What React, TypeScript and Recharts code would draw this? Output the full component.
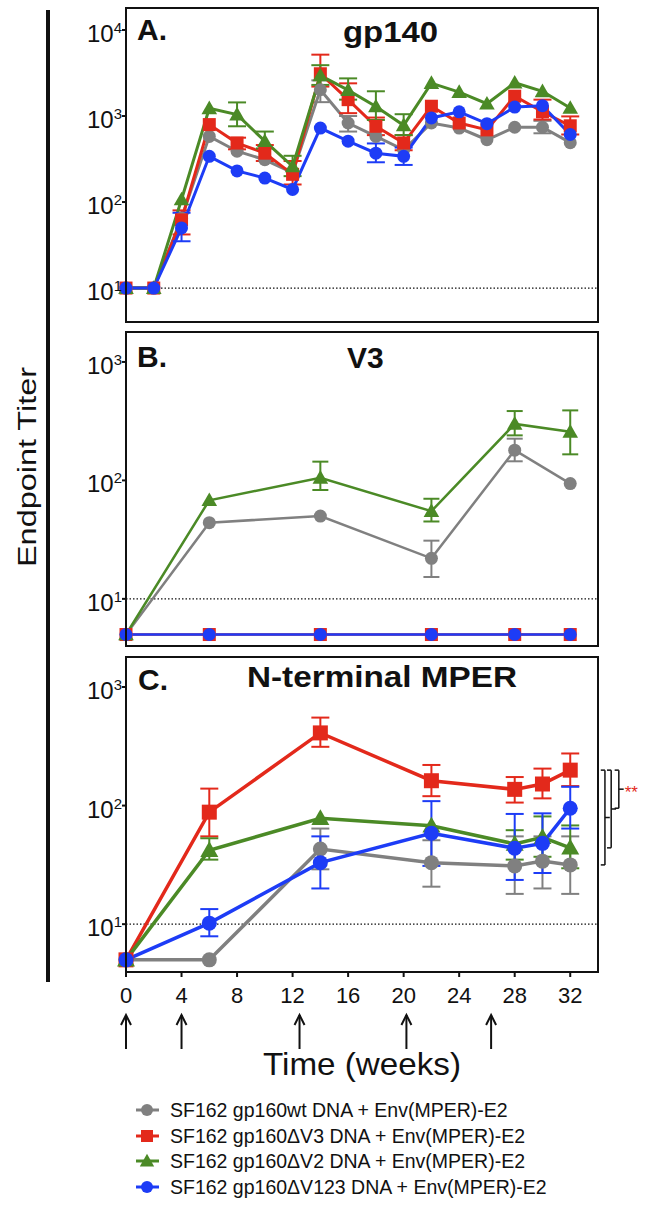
import React from "react";
import {
  LineChart,
  Line,
  XAxis,
  YAxis,
  ReferenceLine,
  ReferenceDot,
  ErrorBar,
} from "recharts";

const FONT = '"Liberation Sans", Arial, Helvetica, sans-serif';
const INK = "#111";

type Key = "gray" | "red" | "green" | "blue";
type Shape = "circle" | "square" | "triangle";
type Range = [number, number];

const seriesKeys: Key[] = ["gray", "red", "green", "blue"];
const seriesColors: Record<Key, string> = {
  gray: "#808080",
  red: "#e3291b",
  green: "#4b8a26",
  blue: "#1d3cf6",
};
const seriesShapes: Record<Key, Shape> = {
  gray: "circle",
  red: "square",
  green: "triangle",
  blue: "circle",
};
const seriesLabels = [
  "SF162 gp160wt DNA + Env(MPER)-E2",
  "SF162 gp160ΔV3 DNA + Env(MPER)-E2",
  "SF162 gp160ΔV2 DNA + Env(MPER)-E2",
  "SF162 gp160ΔV123 DNA + Env(MPER)-E2",
];

const weekTicks = [0, 4, 8, 12, 16, 20, 24, 28, 32];
const immunizationWeeks = [0, 4, 12.5, 20.2, 26.3];

// A. gp140
const weeksA = [0, 2, 4, 6, 8, 10, 12, 14, 16, 18, 20, 22, 24, 26, 28, 30, 32];
const grayA = [10, 10, 65, 580, 390, 310, 220, 2020, 830, 580, 405, 830, 725, 530, 740, 740, 490];
const redA = [10, 10, 62, 795, 485, 370, 210, 3100, 1550, 760, 485, 1300, 830, 690, 1700, 1120, 770];
const greenA = [10, 10, 107, 1230, 1040, 510, 260, 2960, 2000, 1290, 780, 2410, 1900, 1390, 2440, 1940, 1240];
const blueA = [10, 10, 50, 340, 230, 190, 140, 725, 510, 370, 340, 950, 1120, 815, 1270, 1320, 610];
const grayAErr: Record<number, Range> = { 14: [1450, 2600], 16: [660, 1000], 30: [630, 880] };
const redAErr: Record<number, Range> = {
  4: [42, 80], 8: [410, 560], 10: [300, 460], 12: [160, 300], 14: [2200, 5170],
  16: [1080, 2400], 18: [600, 960], 20: [400, 600], 30: [910, 1550], 32: [610, 990],
};
const greenAErr: Record<number, Range> = {
  8: [760, 1440], 10: [420, 660], 12: [200, 345], 14: [2300, 3900],
  16: [1550, 2740], 18: [900, 1940], 20: [600, 1050],
};
const blueAErr: Record<number, Range> = { 4: [35, 75], 18: [290, 480], 20: [270, 430] };

// B. V3
const weeksB = [0, 6, 14, 22, 28, 32];
const grayB = [5, 44, 50, 22, 180, 94];
const redB = [5, 5, 5, 5, 5, 5];
const greenB = [5, 68, 105, 55, 300, 257];
const blueB = [5, 5, 5, 5, 5, 5];
const grayBErr: Record<number, Range> = { 22: [15.3, 31], 28: [145, 225] };
const greenBErr: Record<number, Range> = { 14: [83, 144], 22: [45, 70], 28: [240, 385], 32: [166, 390] };

// C. N-terminal MPER
const weeksC = [0, 6, 14, 22, 28, 30, 32];
const grayC = [5, 5, 43, 33, 31, 34, 31.6];
const redC = [5, 88, 410, 162, 137, 152, 199];
const greenC = [5, 42, 78, 67.5, 47.5, 54, 44];
const blueC = [5, 10.2, 33, 58.5, 43.7, 48, 95];
const grayCErr: Record<number, Range> = { 14: [29, 64], 22: [20.7, 51], 28: [18, 55], 30: [20, 55], 32: [18, 55] };
const redCErr: Record<number, Range> = { 6: [55, 139], 14: [313, 552], 22: [120, 220], 28: [106, 174], 30: [115, 205], 32: [146, 275] };
const greenCErr: Record<number, Range> = { 6: [35, 53], 28: [35, 62], 30: [37, 81], 32: [29.6, 68] };
const blueCErr: Record<number, Range> = { 6: [7.9, 13.4], 14: [20, 55], 22: [31, 109], 28: [23.6, 85], 30: [27, 86], 32: [64, 144] };

// significance brackets at week 32 (red vs others)
const comparisons: { target: Key; x: number }[] = [
  { target: "gray", x: 34.5 },
  { target: "green", x: 34.95 },
  { target: "blue", x: 35.5 },
];

type Row = { week: number } & Record<string, number | number[] | undefined>;

function buildRows(
  weeks: number[],
  vals: Record<Key, number[]>,
  errs: Partial<Record<Key, Record<number, Range>>>
): Row[] {
  return weeks.map((week, i) => {
    const row: Row = { week };
    seriesKeys.forEach((k) => {
      const v = vals[k][i];
      row[k] = v;
      const r = errs[k]?.[week];
      row[k + "Err"] = r ? [v - r[0], r[1] - v] : undefined;
    });
    return row;
  });
}

const rowsA = buildRows(
  weeksA,
  { gray: grayA, red: redA, green: greenA, blue: blueA },
  { gray: grayAErr, red: redAErr, green: greenAErr, blue: blueAErr }
);
const rowsB = buildRows(
  weeksB,
  { gray: grayB, red: redB, green: greenB, blue: blueB },
  { gray: grayBErr, green: greenBErr }
);
const rowsC = buildRows(
  weeksC,
  { gray: grayC, red: redC, green: greenC, blue: blueC },
  { gray: grayCErr, red: redCErr, green: greenCErr, blue: blueCErr }
);

function Marker({ shape, color, size, cx, cy }: { shape: Shape; color: string; size: number; cx: number; cy: number }) {
  if (shape === "circle") return <circle cx={cx} cy={cy} r={size / 2} fill={color} />;
  if (shape === "square")
    return <rect x={cx - size / 2} y={cy - size / 2} width={size} height={size} fill={color} />;
  const w = size * 0.6;
  return (
    <polygon
      points={`${cx},${cy - size * 0.6} ${cx + w},${cy + size * 0.45} ${cx - w},${cy + size * 0.45}`}
      fill={color}
    />
  );
}

function makeDot(k: Key, size: number) {
  return (p: { cx?: number; cy?: number; index?: number }) => (
    <Marker key={`${k}-${p.index}`} shape={seriesShapes[k]} color={seriesColors[k]} size={size} cx={p.cx ?? 0} cy={p.cy ?? 0} />
  );
}

function PowTick(props: { x?: number; y?: number; payload?: { value: number } }) {
  const { x = 0, y = 0, payload } = props;
  const exp = Math.round(Math.log10(payload?.value ?? 10));
  return (
    <text x={x} y={y} textAnchor="end" fontFamily={FONT} fill={INK}>
      <tspan fontSize={24} dy={12}>10</tspan>
      <tspan fontSize={15} dy={-9}>{exp}</tspan>
    </text>
  );
}

function Panel(props: {
  rows: Row[];
  yDomain: [number, number];
  yTicks: number[];
  top: number;
  height: number;
  marginBottom: number;
  lineWidth: number;
  markerSize: number;
  capWidth: number;
  showX?: boolean;
  extras?: React.ReactNode;
}) {
  const { rows, yDomain, yTicks, top, height, marginBottom, lineWidth, markerSize, capWidth, showX, extras } = props;
  return (
    <div style={{ position: "absolute", left: 0, top }}>
      <LineChart width={647} height={height} data={rows} margin={{ top: 8, right: 49, bottom: marginBottom, left: 0 }}>
        <XAxis
          type="number"
          dataKey="week"
          domain={[0, 34]}
          ticks={weekTicks}
          interval={0}
          hide={!showX}
          height={30}
          axisLine={false}
          tickLine={{ stroke: INK, strokeWidth: 2 }}
          tickSize={5}
          tickMargin={10}
          tick={{ fontSize: 22, fill: INK, fontFamily: FONT }}
        />
        <YAxis
          type="number"
          scale="log"
          domain={yDomain}
          ticks={yTicks}
          interval={0}
          width={126}
          axisLine={false}
          tickLine={{ stroke: INK, strokeWidth: 2 }}
          tickSize={4}
          tickMargin={0}
          tick={(p: any) => <PowTick {...p} />}
        />
        <ReferenceLine y={10} stroke={INK} strokeWidth={1.3} strokeDasharray="1.5 2" />
        {seriesKeys.map((k) => (
          <Line
            key={k}
            type="linear"
            dataKey={k}
            stroke={seriesColors[k]}
            strokeWidth={lineWidth}
            dot={makeDot(k, markerSize)}
            activeDot={false}
            isAnimationActive={false}
          >
            <ErrorBar
              dataKey={k + "Err"}
              direction="y"
              width={capWidth}
              strokeWidth={2}
              stroke={seriesColors[k]}
              isAnimationActive={false}
            />
          </Line>
        ))}
        {extras}
      </LineChart>
    </div>
  );
}

const yBottomC = 3.95;
const red32 = redC[redC.length - 1];
const valueAt32: Record<Key, number> = {
  gray: grayC[grayC.length - 1],
  red: red32,
  green: greenC[greenC.length - 1],
  blue: blueC[blueC.length - 1],
};

const extrasC = [
  ...immunizationWeeks.map((w) => (
    <ReferenceDot
      key={`arrow-${w}`}
      x={w}
      y={yBottomC}
      ifOverflow="visible"
      shape={(p: any) => (
        <g stroke={INK} strokeWidth={2} fill="none">
          <line x1={p.cx} y1={p.cy + 43} x2={p.cx} y2={p.cy + 77} />
          <polyline points={`${p.cx - 5},${p.cy + 53} ${p.cx},${p.cy + 43} ${p.cx + 5},${p.cy + 53}`} />
        </g>
      )}
    />
  )),
  ...comparisons.flatMap((c) => {
    const lo = valueAt32[c.target];
    const mid = Math.sqrt(lo * red32);
    const seg = (a: [number, number], b: [number, number], id: string) => (
      <ReferenceLine
        key={`${c.target}-${id}`}
        segment={[{ x: a[0], y: a[1] }, { x: b[0], y: b[1] }]}
        ifOverflow="visible"
        stroke={INK}
        strokeWidth={1.5}
      />
    );
    return [
      seg([c.x, red32], [c.x, lo], "v"),
      seg([c.x - 0.3, red32], [c.x, red32], "t"),
      seg([c.x - 0.3, lo], [c.x, lo], "b"),
      seg([c.x, mid], [c.x + 0.35, mid], "m"),
    ];
  }),
  <ReferenceDot
    key="stars"
    x={comparisons[2].x + 0.35}
    y={Math.sqrt(red32 * valueAt32.blue)}
    ifOverflow="visible"
    shape={(p: any) => (
      <text x={p.cx + 1} y={p.cy + 9} fontSize={17} fill="#e3291b" fontFamily={FONT}>
        **
      </text>
    )}
  />,
];

const legendRows = [1110, 1136, 1161, 1187];

export default function App() {
  return (
    <div style={{ position: "absolute", left: 0, top: 0, width: 647, height: 1212, background: "#fff", fontFamily: FONT }}>
      <Panel
        rows={rowsA}
        yDomain={[4.03, 18030]}
        yTicks={[10, 100, 1000, 10000]}
        top={0}
        height={330}
        marginBottom={8}
        lineWidth={3}
        markerSize={13}
        capWidth={9}
      />
      <Panel
        rows={rowsB}
        yDomain={[4.0, 1790]}
        yTicks={[10, 100, 1000]}
        top={324}
        height={330}
        marginBottom={8}
        lineWidth={2.5}
        markerSize={13}
        capWidth={8}
      />
      <Panel
        rows={rowsC}
        yDomain={[yBottomC, 1790]}
        yTicks={[10, 100, 1000]}
        top={649}
        height={411}
        marginBottom={58}
        lineWidth={3.5}
        markerSize={15}
        capWidth={9}
        showX
        extras={extrasC}
      />
      <svg width={647} height={1212} style={{ position: "absolute", left: 0, top: 0, pointerEvents: "none" }}>
        <rect x={126} y={8} width={472} height={314} fill="none" stroke={INK} strokeWidth={2} />
        <rect x={126} y={332} width={472} height={314} fill="none" stroke={INK} strokeWidth={2} />
        <rect x={126} y={657} width={472} height={315} fill="none" stroke={INK} strokeWidth={2} />
        <rect x={46} y={10} width={4} height={972} fill={INK} />
        <g fontFamily={FONT} fontWeight="bold" fontSize={30} fill={INK}>
          <text x={137} y={40}>A.</text>
          <text x={343} y={42} textLength={95} lengthAdjust="spacingAndGlyphs">gp140</text>
          <text x={137} y={367}>B.</text>
          <text x={347} y={368}>V3</text>
          <text x={138} y={690}>C.</text>
          <text x={247} y={687} textLength={270} lengthAdjust="spacingAndGlyphs">N-terminal MPER</text>
        </g>
        <text
          transform="translate(36, 467) rotate(-90)"
          textAnchor="middle"
          fontFamily={FONT}
          fontSize={25}
          textLength={200}
          lengthAdjust="spacingAndGlyphs"
          fill={INK}
        >
          Endpoint Titer
        </text>
        <text x={362} y={1075} textAnchor="middle" fontFamily={FONT} fontSize={32} textLength={198} lengthAdjust="spacingAndGlyphs" fill={INK}>
          Time (weeks)
        </text>
        {seriesKeys.map((k, i) => (
          <g key={k}>
            <line x1={136} x2={159} y1={legendRows[i]} y2={legendRows[i]} stroke={seriesColors[k]} strokeWidth={3} />
            <Marker shape={seriesShapes[k]} color={seriesColors[k]} size={12} cx={147} cy={legendRows[i]} />
            <text x={170} y={legendRows[i] + 7} fontFamily={FONT} fontSize={19.5} fill={INK}>
              {seriesLabels[i]}
            </text>
          </g>
        ))}
      </svg>
    </div>
  );
}
